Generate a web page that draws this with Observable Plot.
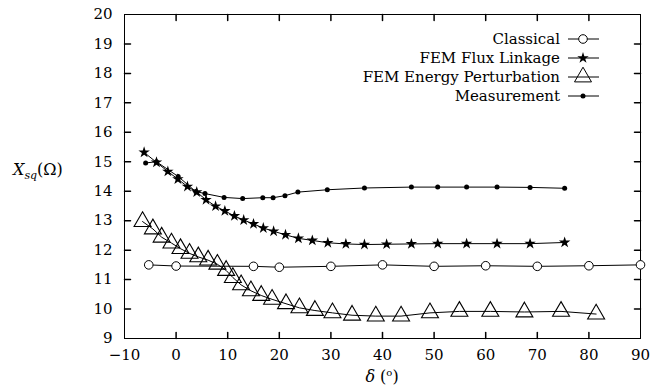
<!DOCTYPE html>
<html><head><meta charset="utf-8">
<script src="https://cdn.jsdelivr.net/npm/d3@7"></script>
<script src="https://cdn.jsdelivr.net/npm/@observablehq/plot@0.6"></script>
<style>body{margin:0;background:#fff}</style>
</head><body><div id="chart"></div>
<script>
// ---- data ----
const seriesNames = ["Classical", "FEM Flux Linkage", "FEM Energy Perturbation", "Measurement"];

const classicalX = [-5.3, 0, 15, 20, 30, 40, 50, 60, 70, 80, 90];
const classicalY = [11.5, 11.46, 11.45, 11.42, 11.45, 11.5, 11.45, 11.47, 11.45, 11.47, 11.5];

const fluxX = [-6.2, -3.8, -1.6, 0.35, 2.2, 4.0, 5.8, 7.65, 9.45, 11.3, 13.1, 15.0, 16.9, 18.9, 21.2, 23.7, 26.4, 29.4, 32.9, 36.5, 40.8, 45.6, 50.7, 56.3, 62.2, 68.6, 75.3];
const fluxY = [15.32, 14.98, 14.67, 14.41, 14.16, 13.97, 13.71, 13.49, 13.33, 13.16, 13.02, 12.89, 12.75, 12.64, 12.52, 12.40, 12.33, 12.25, 12.21, 12.19, 12.2, 12.21, 12.22, 12.22, 12.22, 12.22, 12.26];

const energyX = [-6.5, -4.5, -2.8, -0.9, 0.85, 2.6, 4.3, 6.2, 8.0, 9.7, 11.0, 12.6, 14.5, 16.5, 18.6, 21.3, 23.9, 26.9, 30.3, 34.1, 38.7, 43.6, 49.2, 54.9, 60.9, 67.5, 74.6, 81.4];
const energyY = [12.97, 12.72, 12.44, 12.24, 12.05, 11.89, 11.77, 11.66, 11.52, 11.31, 11.07, 10.82, 10.62, 10.46, 10.33, 10.18, 10.04, 9.95, 9.87, 9.79, 9.76, 9.76, 9.87, 9.92, 9.92, 9.9, 9.92, 9.83];

const measX = [-5.9, -3.8, 0.4, 3.8, 5.6, 9.3, 12.9, 16.8, 18.8, 21.1, 23.6, 29.3, 36.5, 45.6, 50.7, 56.3, 62.2, 68.6, 75.3];
const measY = [14.96, 15.0, 14.5, 13.99, 13.92, 13.79, 13.75, 13.78, 13.78, 13.85, 13.97, 14.05, 14.11, 14.14, 14.14, 14.14, 14.14, 14.13, 14.1];

const xTicks = [-10, 0, 10, 20, 30, 40, 50, 60, 70, 80, 90];
const yTicks = [9, 10, 11, 12, 13, 14, 15, 16, 17, 18, 19, 20];

const toRows = (xs, ys) => xs.map((x, i) => ({x, y: ys[i]}));
const classical = toRows(classicalX, classicalY);
const flux = toRows(fluxX, fluxY);
const energy = toRows(energyX, energyY);
const meas = toRows(measX, measY);

const FONT = "'DejaVu Serif', 'Liberation Serif', serif";
const tickShape = {draw(ctx, l) { ctx.moveTo(0, 0); ctx.lineTo(0, -l); }};
const innerX = xTicks.slice(1, -1), innerY = yTicks.slice(1, -1);

const R = {circle: 4.3, star: 3.6, triangle: 6.3, dot: 2.5};

const chart = Plot.plot({
  width: 660, height: 386,
  marginLeft: 124, marginRight: 20, marginTop: 14, marginBottom: 48,
  style: {fontFamily: FONT, fontSize: "15px", color: "black", background: "white"},
  x: {domain: [-10, 90]},
  y: {domain: [9, 20]},
  marks: [
    Plot.frame({stroke: "black", strokeWidth: 1}),
    Plot.axisX({ticks: xTicks, tickSize: 0, tickPadding: 11, label: null, fontSize: 15}),
    Plot.axisY({ticks: yTicks, tickSize: 0, tickPadding: 12, label: null, fontSize: 15}),
    Plot.vector(innerX, {x: d => d, frameAnchor: "bottom", rotate: 0, length: 6, anchor: "start", shape: tickShape, stroke: "black"}),
    Plot.vector(innerX, {x: d => d, frameAnchor: "top", rotate: 180, length: 6, anchor: "start", shape: tickShape, stroke: "black"}),
    Plot.vector(innerY, {y: d => d, frameAnchor: "left", rotate: 90, length: 6, anchor: "start", shape: tickShape, stroke: "black"}),
    Plot.vector(innerY, {y: d => d, frameAnchor: "right", rotate: -90, length: 6, anchor: "start", shape: tickShape, stroke: "black"}),
    Plot.line(classical, {x: "x", y: "y", stroke: "black", strokeWidth: 1}),
    Plot.line(flux, {x: "x", y: "y", stroke: "black", strokeWidth: 1}),
    Plot.line(energy, {x: "x", y: "y", stroke: "black", strokeWidth: 1}),
    Plot.line(meas, {x: "x", y: "y", stroke: "black", strokeWidth: 1}),
    Plot.dot(classical, {x: "x", y: "y", r: R.circle, stroke: "black", fill: "white", strokeWidth: 1}),
    Plot.dot(flux, {x: "x", y: "y", r: R.star, symbol: "star", fill: "black", stroke: "none"}),
    Plot.dot(energy, {x: "x", y: "y", r: R.triangle, symbol: "triangle", fill: "none", stroke: "black", strokeWidth: 1.1}),
    Plot.dot(meas, {x: "x", y: "y", r: R.dot, fill: "black", stroke: "none"})
  ]
});
document.getElementById("chart").appendChild(chart);

// ---- legend and axis titles ----
const svg = d3.select(chart);
const legend = svg.append("g").attr("font-family", FONT).attr("font-size", 15);
const legendSym = [
  {type: d3.symbolCircle, r: R.circle, fill: "white", stroke: "black"},
  {type: d3.symbolStar, r: R.star, fill: "black", stroke: "none"},
  {type: d3.symbolTriangle, r: R.triangle, fill: "none", stroke: "black"},
  {type: d3.symbolCircle, r: R.dot, fill: "black", stroke: "none"}
];
seriesNames.forEach((name, i) => {
  const y = 39 + i * 19;
  legend.append("text").attr("x", 560).attr("y", y).attr("dy", "0.32em")
    .attr("text-anchor", "end").text(name);
  legend.append("line").attr("x1", 568).attr("x2", 599).attr("y1", y).attr("y2", y)
    .attr("stroke", "black");
  const s = legendSym[i];
  legend.append("path").attr("transform", `translate(583,${y})`)
    .attr("d", d3.symbol(s.type, Math.PI * s.r * s.r)())
    .attr("fill", s.fill).attr("stroke", s.stroke);
});

const yl = svg.append("text").attr("x", 13).attr("y", 175).attr("text-anchor", "start")
  .attr("font-family", FONT).attr("font-size", 16);
yl.append("tspan").attr("font-style", "italic").text("X");
yl.append("tspan").attr("font-style", "italic").attr("font-size", 11).attr("dy", 4).text("sq");
yl.append("tspan").attr("dy", -4).text("(Ω)");

const xl = svg.append("text").attr("x", 382).attr("y", 382).attr("text-anchor", "middle")
  .attr("font-family", FONT).attr("font-size", 16);
xl.append("tspan").attr("font-style", "italic").text("δ");
xl.append("tspan").text(" (");
xl.append("tspan").attr("font-size", 10).attr("dy", -6).text("o");
xl.append("tspan").attr("dy", 6).text(")");
</script>
</body></html>
